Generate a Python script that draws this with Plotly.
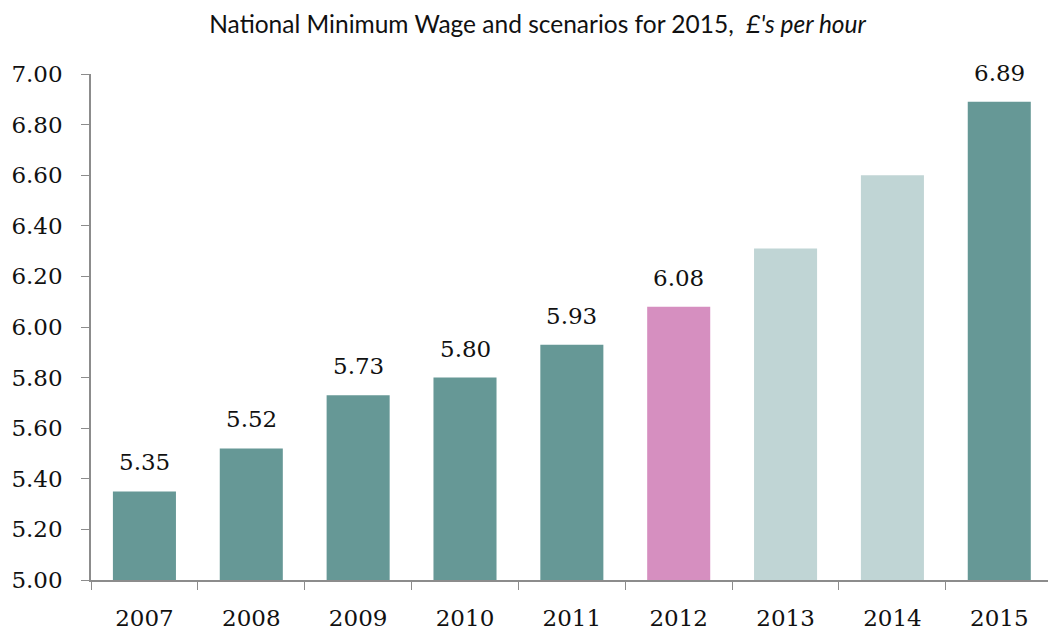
import plotly.graph_objects as go

years = ["2007", "2008", "2009", "2010", "2011", "2012", "2013", "2014", "2015"]
wages = [5.35, 5.52, 5.73, 5.80, 5.93, 6.08, 6.31, 6.60, 6.89]
kinds = ["actual", "actual", "actual", "actual", "actual", "current",
         "scenario", "scenario", "actual"]
show_label = [True, True, True, True, True, True, False, False, True]
y_ticks = [5.00, 5.20, 5.40, 5.60, 5.80, 6.00, 6.20, 6.40, 6.60, 6.80, 7.00]

palette = {"actual": "#669896", "current": "#D68FC0", "scenario": "#C0D5D5"}
colors = [palette[k] for k in kinds]

serif = "DejaVu Serif"
num_size = 23

fig = go.Figure(
    go.Bar(
        x=years,
        y=wages,
        base=0,
        marker=dict(color=colors, line=dict(width=0)),
        width=0.59,
        hoverinfo="x+y",
    )
)

# value labels floating above the bars (category index used as x position)
label_notes = [
    dict(
        x=i, y=v, xref="x", yref="y", text=f"{v:.2f}", showarrow=False,
        xanchor="center", yanchor="bottom", yshift=14,
        font=dict(family=serif, size=num_size, color="#111111"),
    )
    for i, (v, s) in enumerate(zip(wages, show_label)) if s
]

fig.update_layout(
    width=1048,
    height=633,
    margin=dict(l=91, r=0, t=74, b=53),
    paper_bgcolor="white",
    plot_bgcolor="white",
    showlegend=False,
    annotations=label_notes,
    title=dict(
        text="National Minimum Wage and scenarios for 2015,  <i>£'s per hour</i>",
        x=0.513,
        xanchor="center",
        y=0.962,
        yanchor="middle",
        font=dict(family="Lato", size=24.5, color="#111111"),
    ),
    xaxis=dict(
        type="category",
        range=[-0.5, 8.456],
        showline=True,
        linecolor="#8c8c8c",
        linewidth=1.5,
        ticks="outside",
        tickson="boundaries",
        ticklen=8,
        tickcolor="#8c8c8c",
        tickfont=dict(family=serif, size=num_size, color="#111111"),
        showgrid=False,
        zeroline=False,
        ticklabelstandoff=17,
    ),
    yaxis=dict(
        range=[5.0, 7.0],
        tickvals=y_ticks,
        ticktext=[f"{t:.2f}" for t in y_ticks],
        showline=True,
        linecolor="#8c8c8c",
        linewidth=1.5,
        ticks="outside",
        ticklen=8,
        tickcolor="#8c8c8c",
        tickfont=dict(family=serif, size=num_size, color="#111111"),
        showgrid=False,
        zeroline=False,
        ticklabelstandoff=14,
    ),
)

fig.write_html("out.html")
